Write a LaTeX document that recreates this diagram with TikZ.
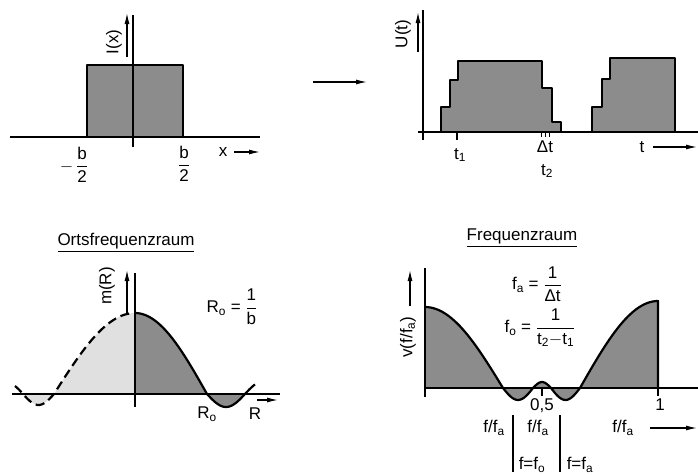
\documentclass[tikz,border=0pt]{standalone}
\usepackage{amsmath}
\usepackage{fontspec}
\setmainfont{Liberation Sans}
\usetikzlibrary{arrows.meta}

\newcommand{\frc}[2]{\ensuremath{\dfrac{\text{#1}}{\text{#2}}}}
\newcommand{\sub}[1]{\textsubscript{#1}}

\begin{document}
\begin{tikzpicture}[x=1pt, y=-1pt, font=\fontsize{17}{19}\selectfont,
  >={Latex[length=11pt,width=5pt]},
  ax/.style={line width=1.2pt},
  crv/.style={line width=2.2pt, line join=round},
  dark/.style={fill=black!45},
  light/.style={fill=black!12},
  lbl/.style={inner sep=1pt},
  yl/.style={lbl, rotate=90}]
\useasboundingbox (0,0) rectangle (698,474);
% (a) I(x)
\fill[dark] (87,65) rectangle (183,137);
\draw[ax] (10,137) -- (260,137);
\draw[crv] (40,137) -- (87,137) -- (87,65) -- (183,65) -- (183,137) -- (237,137);
\draw[ax] (133,15) -- (133,147);
\node[yl] (Ilbl) at (114,42) {I(x)};
\draw[->, ax] (127,57) -- (127,13);
\node[lbl] (mb) at (74,165) {$-$\,\frc{b}{2}};
\node[lbl] (pb) at (184,164) {\frc{b}{2}};
\node[lbl] (xlbl) at (223,152) {x};
\draw[->, ax] (234,152) -- (260,152);
% transition
\coordinate (arrA) at (313,82);
\coordinate (arrB) at (367,82);
\draw[->, ax] (arrA) -- (arrB);
% (b) U(t)
\fill[dark] (441,132) -- (441,107) -- (450,107) -- (450,80) -- (458,80) -- (458,61)
  -- (542,61) -- (542,88) -- (552,88) -- (552,122) -- (561,122) -- (561,132) -- cycle;
\fill[dark] (592,132) -- (592,107) -- (602,107) -- (602,79) -- (610,79) -- (610,58)
  -- (675,58) -- (675,132) -- cycle;
\draw[ax] (418,132) -- (698,132);
\draw[ax] (423,10) -- (423,140);
\draw[crv] (425,132) -- (441,132) -- (441,107) -- (450,107) -- (450,80) -- (458,80) -- (458,61)
  -- (542,61) -- (542,88) -- (552,88) -- (552,122) -- (561,122) -- (561,132)
  -- (592,132) -- (592,107) -- (602,107) -- (602,79) -- (610,79) -- (610,58)
  -- (675,58) -- (675,132) -- (698,132);
\node[yl] (Ulbl) at (403,34) {U(t)};
\draw[->, ax] (418,52) -- (418,12);
\draw[ax] (457,132) -- (457,140);
\foreach \tx in {541,545,549} \draw[line width=0.8pt] (\tx,132) -- (\tx,137);
\node[lbl] (t1) at (460,155) {t\sub{1}};
\node[lbl] (dt) at (545,147) {Δt};
\node[lbl] (t2) at (547,171) {t\sub{2}};
\node[lbl] (tlbl) at (642,147) {t};
\draw[->, ax] (653,147) -- (697,147);
% (c) Ortsfrequenzraum
\node[lbl] (ortsf) at (126,243) {\underline{Ortsfrequenzraum}};
\fill[light] plot[domain=54:135, samples=30] (\x, {394-81*cos(90*(135-\x)/81)}) -- (135,394) -- cycle;
\fill[light] plot[domain=23:54, samples=20] (\x, {394+11*sin(180*(54-\x)/31)}) -- cycle;
\fill[dark] plot[domain=135:207, samples=30] (\x, {394-81*cos(90*(\x-135)/72)}) -- (135,394) -- cycle;
\fill[dark] plot[domain=207:245, samples=20] (\x, {394+13*sin(180*(\x-207)/38)}) -- cycle;
\draw[ax] (12,394) -- (280,394);
\draw[ax] (135,273) -- (135,407);
\draw[crv, dash pattern=on 9pt off 5pt] plot[domain=15:54, samples=20] (\x, {394+11*sin(180*(54-\x)/31)})
  -- plot[domain=54:135, samples=30] (\x, {394-81*cos(90*(135-\x)/81)});
\draw[crv] plot[domain=135:207, samples=30] (\x, {394-81*cos(90*(\x-135)/72)})
  -- plot[domain=207:255, samples=25] (\x, {394+13*sin(180*(\x-207)/38)});
\node[yl] (mlbl) at (107,286) {m(R)};
\draw[->, ax] (127,315) -- (127,270);
\node[lbl] (rnull) at (232,307) {R\sub{o} = \frc{1}{b}};
\node[lbl] (ro) at (207,414) {R\sub{o}};
\node[lbl] (rlbl) at (255,414) {R};
\draw[->, ax] (257,400) -- (278,400);
% (d) Frequenzraum
\node[lbl] (freq) at (522,238) {\underline{Frequenzraum}};
\fill[dark] (425,388)
  -- plot[domain=425:503, samples=30] (\x, {388-81*cos(90*(\x-425)/78)})
  -- plot[domain=503:533, samples=15] (\x, {388+12*sin(180*(\x-503)/30)})
  -- plot[domain=533:551, samples=10] (\x, {388-6*sin(180*(\x-533)/18)})
  -- plot[domain=551:580, samples=15] (\x, {388+12*sin(180*(\x-551)/29)})
  -- plot[domain=580:658, samples=30] (\x, {388-87*cos(90*(658-\x)/78)})
  -- (658,388) -- cycle;
\draw[ax] (425,388) -- (698,388);
\draw[ax] (425,268) -- (425,397);
\draw[crv] (425,307)
  -- plot[domain=425:503, samples=30] (\x, {388-81*cos(90*(\x-425)/78)})
  -- plot[domain=503:533, samples=15] (\x, {388+12*sin(180*(\x-503)/30)})
  -- plot[domain=533:551, samples=10] (\x, {388-6*sin(180*(\x-533)/18)})
  -- plot[domain=551:580, samples=15] (\x, {388+12*sin(180*(\x-551)/29)})
  -- plot[domain=580:658, samples=30] (\x, {388-87*cos(90*(658-\x)/78)})
  -- (658,388);
\node[yl] (vlbl) at (408,337) {v(f/f\sub{a})};
\draw[->, ax] (410,306) -- (410,270);
\draw[ax] (542,388) -- (542,396);
\draw[ax] (658,388) -- (658,396);
\node[lbl] (half) at (542,406) {0,5};
\node[lbl] (one) at (660,405) {1};
\node[lbl] (fa1) at (494,428) {f/f\sub{a}};
\node[lbl] (fa2) at (538,428) {f/f\sub{a}};
\draw[ax] (513,415) -- (513,472);
\draw[ax] (560,415) -- (560,472);
\node[lbl] (ffo) at (532,465) {f=f\sub{o}};
\node[lbl] (ffa) at (580,465) {f=f\sub{a}};
\node[lbl] (fa3) at (623,428) {f/f\sub{a}};
\draw[->, ax] (650,428) -- (697,428);
\node[lbl] (fadef) at (537,284) {f\sub{a} = \frc{1}{Δt}};
\node[lbl] (fodef) at (540,328) {f\sub{o} = \frc{1}{t\sub{2}$-$t\sub{1}}};
\end{tikzpicture}
\end{document}
